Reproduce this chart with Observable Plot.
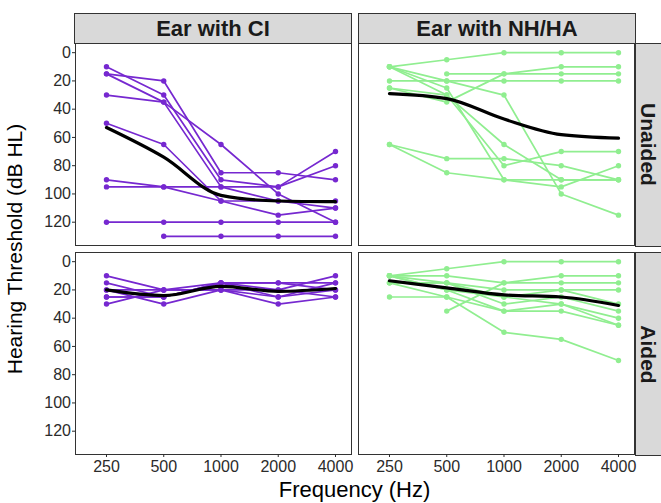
<!DOCTYPE html>
<html><head><meta charset="utf-8">
<script src="https://cdn.jsdelivr.net/npm/d3@7"></script>
<script src="https://cdn.jsdelivr.net/npm/@observablehq/plot@0.6"></script>
<style>
body{margin:0;background:#fff;}
#wrap{position:relative;width:661px;height:503px;overflow:hidden;font-family:"Liberation Sans",Arial,sans-serif;}
#wrap svg{position:absolute;left:0;top:0;}
.strip{position:absolute;background:#d9d9d9;border:1px solid #333;box-sizing:border-box;display:flex;align-items:center;justify-content:center;font-weight:bold;font-size:22px;color:#1a1a1a;white-space:nowrap;}
.strip span{display:inline-block;line-height:1;}
.title{position:absolute;color:#000;white-space:nowrap;}
</style></head><body><div id="wrap"></div>
<script>
const freqs = [250, 500, 1000, 2000, 4000];
const ears = ["Ear with CI", "Ear with NH/HA"];
const conditions = ["Unaided", "Aided"];
const xTicks = [250, 500, 1000, 2000, 4000];
const yTicks = [0, 20, 40, 60, 80, 100, 120];

// individual thresholds (dB HL) at 250, 500, 1000, 2000, 4000 Hz
const ciUnaided = [
  [10, 30, 90, 95, 80],
  [15, 20, 85, 85, 90],
  [15, 35, 95, 105, 110],
  [30, 35, 65, 100, 120],
  [50, 65, 105, 105, 105],
  [90, 95, 105, 115, 110],
  [95, 95, 95, 95, 70],
  [120, 120, 120, 120, 120],
  [null, 130, 130, 130, 130]
];
const ciAided = [
  [10, 20, 15, 15, 15],
  [15, 25, 15, 20, 10],
  [20, 20, 20, 25, 20],
  [25, 25, 15, 15, 20],
  [30, 20, 20, 20, 25],
  [20, 30, 20, 30, 25],
  [25, 25, 15, 25, 15]
];
const nhUnaided = [
  [10, 5, 0, 0, 0],
  [null, 15, 15, 15, 15],
  [20, 20, 20, 20, 20],
  [25, 35, 15, 10, 10],
  [10, 25, 90, 95, 80],
  [10, 20, 30, 100, 115],
  [10, 30, 65, 90, 90],
  [65, 75, 75, 80, 90],
  [65, 85, 90, 90, 90],
  [25, 30, 80, 70, 70]
];
const nhAided = [
  [10, 5, 0, 0, 0],
  [10, 10, 15, 15, 15],
  [10, 15, 20, 20, 20],
  [null, 35, 15, 10, 10],
  [15, 25, 50, 55, 70],
  [25, 25, 35, 35, 45],
  [10, 20, 25, 30, 40],
  [15, 15, 30, 25, 35],
  [10, 20, 35, 30, 45],
  [15, 15, 25, 20, 30]
];
// group mean lines
const meanCiUnaided = [53, 74, 101, 105, 105.5];
const meanCiAided = [20, 24, 17.5, 21, 19];
const meanNhUnaided = [29, 32.5, 47, 58, 60.5];
const meanNhAided = [13.5, 18.5, 23.5, 25, 31];

const earColors = ["#7628D0", "#90EE90"];

const groups = [
  {ear: ears[0], cond: conditions[0], subj: ciUnaided, mean: meanCiUnaided},
  {ear: ears[0], cond: conditions[1], subj: ciAided, mean: meanCiAided},
  {ear: ears[1], cond: conditions[0], subj: nhUnaided, mean: meanNhUnaided},
  {ear: ears[1], cond: conditions[1], subj: nhAided, mean: meanNhAided}
];
const subjRows = [], meanRows = [];
groups.forEach((g, gi) => {
  g.subj.forEach((s, si) => s.forEach((v, fi) => {
    if (v != null) subjRows.push({ear: g.ear, cond: g.cond, id: gi + "-" + si, freq: freqs[fi], db: v});
  }));
  g.mean.forEach((v, fi) => meanRows.push({ear: g.ear, cond: g.cond, freq: freqs[fi], db: v}));
});

const W = 661, H = 503, mL = 74, mR = 26, mT = 43, mB = 48;
const padX = 0.0246, padY = 0.0334;

const plot = Plot.plot({
  width: W, height: H,
  marginLeft: mL, marginRight: mR, marginTop: mT, marginBottom: mB,
  style: {fontFamily: "Liberation Sans, Arial, sans-serif", fontSize: "16px", background: "transparent", overflow: "visible"},
  fx: {domain: ears, paddingInner: padX, paddingOuter: 0, axis: null, label: null},
  fy: {domain: conditions, paddingInner: padY, paddingOuter: 0, axis: null, label: null},
  x: {type: "log", domain: [171.8, 4855], label: null},
  y: {domain: [-6.5, 136.5], reverse: true, label: null},
  color: {domain: ears, range: earColors},
  marks: [
    Plot.frame({stroke: "#333", strokeWidth: 1}),
    Plot.line(subjRows, {x: "freq", y: "db", z: "id", stroke: "ear", fx: "ear", fy: "cond", strokeWidth: 1.7}),
    Plot.dot(subjRows, {x: "freq", y: "db", fill: "ear", r: 2.7, fx: "ear", fy: "cond"}),
    Plot.line(meanRows, {x: "freq", y: "db", fx: "ear", fy: "cond", stroke: "black", strokeWidth: 3.2, curve: "monotone-x"}),
    Plot.axisX({ticks: xTicks, tickFormat: d => String(d), tickSize: 3, tickPadding: 3, fontSize: 16, color: "#2b2b2b", label: null}),
    Plot.axisY({ticks: yTicks, tickSize: 3, tickPadding: 1.5, fontSize: 16, color: "#2b2b2b", label: null})
  ]
});
const wrap = document.getElementById("wrap");
wrap.appendChild(plot);

// strip layout (derived from the facet band geometry)
const stepX = (W - mL - mR) / (2 - padX), bandX = stepX * (1 - padX);
const stepY = (H - mT - mB) / (2 - padY), bandY = stepY * (1 - padY);
ears.forEach((e, i) => {
  const d = document.createElement("div");
  d.className = "strip";
  d.style.left = (mL + i * stepX) + "px";
  d.style.top = "13px";
  d.style.width = (bandX + 1) + "px";
  d.style.height = (mT - 13 + 1) + "px";
  d.innerHTML = "<span>" + e + "</span>";
  wrap.appendChild(d);
});
conditions.forEach((c, j) => {
  const d = document.createElement("div");
  d.className = "strip";
  d.style.left = (W - mR) + "px";
  d.style.top = (mT + j * stepY) + "px";
  d.style.width = "27px";
  d.style.height = (bandY + 1) + "px";
  d.style.fontSize = "21px";
  d.innerHTML = "<span style='transform:rotate(90deg)'>" + c + "</span>";
  wrap.appendChild(d);
});
const xt = document.createElement("div");
xt.className = "title";
xt.textContent = "Frequency (Hz)";
xt.style.fontSize = "22px";
xt.style.left = (mL + (W - mL - mR) / 2) + "px";
xt.style.top = "490px";
xt.style.transform = "translate(-50%,-50%)";
wrap.appendChild(xt);
const yt = document.createElement("div");
yt.className = "title";
yt.textContent = "Hearing Threshold (dB HL)";
yt.style.fontSize = "21px";
yt.style.left = "15px";
yt.style.top = (mT + (H - mT - mB) / 2) + "px";
yt.style.transform = "translate(-50%,-50%) rotate(-90deg)";
wrap.appendChild(yt);
</script>
</body></html>
